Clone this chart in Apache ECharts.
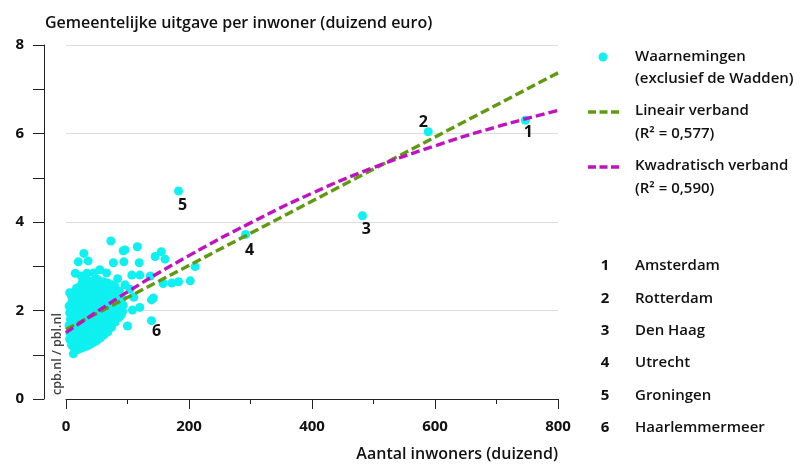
<!DOCTYPE html>
<html>
<head>
<meta charset="utf-8">
<script src="https://cdn.jsdelivr.net/npm/echarts@6/dist/echarts.min.js"></script>
<style>
html, body { margin: 0; padding: 0; background: #fff; }
#chart { width: 803px; height: 466px; }
</style>
</head>
<body>
<div id="chart"></div>
<script>
var FONT = '"Open Sans", "Noto Sans", sans-serif';

// waarnemingen: [inwoners (duizend), uitgave per inwoner (duizend euro)]
var clusterPoints = [
  [6,1.35],[6,1.50],[5,1.66],[7,1.80],[6,1.95],[5,2.10],
  [9,1.22],[10,1.36],[9,1.51],[8,1.64],[10,1.78],[9,1.93],[9,2.06],[10,2.20],[9,2.32],
  [12,1.02],[13,1.16],[12,1.30],[13,1.44],[12,1.58],[13,1.72],[12,1.86],[13,2.00],[12,2.15],[13,2.28],[12,2.40],
  [16,1.12],[17,1.26],[16,1.40],[15,1.55],[17,1.68],[16,1.82],[16,1.96],[17,2.10],[16,2.24],[15,2.38],[17,2.50],
  [20,1.12],[21,1.26],[20,1.40],[21,1.54],[20,1.68],[19,1.83],[21,1.96],[20,2.10],[21,2.24],[20,2.38],[20,2.52],
  [25,1.15],[24,1.29],[26,1.43],[25,1.57],[24,1.71],[26,1.85],[25,1.99],[24,2.13],[26,2.27],[25,2.41],[24,2.55],[26,2.62],
  [30,1.18],[31,1.32],[29,1.46],[30,1.60],[31,1.74],[30,1.88],[29,2.02],[31,2.16],[30,2.30],[29,2.44],[31,2.58],[30,2.65],
  [35,1.20],[36,1.34],[34,1.48],[35,1.62],[36,1.76],[35,1.90],[34,2.04],[36,2.18],[35,2.32],[34,2.46],[36,2.60],[35,2.68],
  [40,1.24],[41,1.38],[39,1.52],[40,1.66],[41,1.80],[40,1.94],[39,2.08],[41,2.22],[40,2.36],[39,2.50],[41,2.64],
  [45,1.28],[46,1.42],[44,1.56],[45,1.70],[46,1.84],[45,1.98],[44,2.12],[46,2.26],[45,2.40],[44,2.54],[46,2.68],
  [50,1.32],[51,1.46],[49,1.60],[50,1.74],[51,1.88],[50,2.02],[49,2.16],[51,2.30],[50,2.44],[49,2.58],[51,2.70],
  [56,1.38],[57,1.52],[55,1.66],[56,1.80],[57,1.94],[56,2.08],[55,2.22],[57,2.36],[56,2.50],[55,2.64],
  [62,1.45],[63,1.59],[61,1.73],[62,1.87],[63,2.01],[62,2.15],[61,2.29],[63,2.43],[62,2.57],[61,2.65],
  [68,1.52],[69,1.66],[67,1.80],[68,1.94],[69,2.08],[68,2.22],[67,2.36],[69,2.50],[68,2.62],
  [74,1.62],[75,1.76],[73,1.90],[74,2.02],[75,2.16],[74,2.30],[73,2.44],[75,2.58],
  [80,1.74],[81,1.88],[79,2.02],[80,2.16],[81,2.30],[80,2.44],[79,2.56],
  [86,1.84],[87,2.00],[85,2.14],[86,2.30],[87,2.44],
  [92,1.98],[93,2.12],[91,2.28]
];
var outlierPoints = [
  [73,3.57],[29,3.29],[20,3.10],[36,3.12],[93,3.35],[77,3.08],[94,3.10],[15,2.84],
  [34,2.84],[66,2.85],[96,3.37],[116,3.44],[119,3.08],[145,3.22],[155,3.33],[161,3.16],
  [107,2.80],[120,2.80],[137,2.78],[210,2.99],[158,2.61],[172,2.62],[183,2.65],[202,2.67],
  [96,2.58],[142,2.28],[139,2.24],[120,2.07],[108,2.01],[100,1.65],[90,1.90],[45,2.85],
  [55,2.92],[25,2.78],[84,2.72],[104,2.48],[110,2.30],[6,2.40]
];

// genummerde gemeenten
var cityNumbers = ['1', '2', '3', '4', '5', '6'];
var cityNames = ['Amsterdam', 'Rotterdam', 'Den Haag', 'Utrecht', 'Groningen', 'Haarlemmermeer'];
var cityPoints = [[747,6.30],[589,6.04],[482,4.14],[292,3.72],[183,4.70],[139,1.77]];

var linearFit = [[0,1.57],[800,7.37]];
var quadraticFit = [[0,1.50],[100,2.42],[200,3.24],[300,3.98],[400,4.65],[500,5.23],[600,5.72],[700,6.15],[800,6.52]];

var xTicks = [0, 200, 400, 600, 800];
var yTicks = [0, 2, 4, 6, 8];

var CYAN = '#0ff0f0', GREEN = '#5f9a10', MAGENTA = '#c012c0', INK = '#111';

var chart = echarts.init(document.getElementById('chart'), null, { renderer: 'canvas' });

// labels bij de genummerde punten
var labelOffsets = [[3,12],[-5,-9],[4,14],[4,16],[4,14],[5,11]];
var cityData = cityPoints.map(function (p, i) {
  return {
    value: p,
    label: {
      show: true, position: 'inside', offset: labelOffsets[i],
      formatter: cityNumbers[i], color: INK, fontSize: 16, fontWeight: 700, fontFamily: FONT
    }
  };
});

// legenda en lijst met gemeenten als graphic
var graphics = [];
function txt(x, y, s, opts) {
  var o = { type: 'text', x: x, y: y, style: { text: s, fill: INK, font: '600 15px ' + FONT, verticalAlign: 'middle', align: 'left' } };
  if (opts) for (var k in opts) o.style[k] = opts[k];
  graphics.push(o);
}
graphics.push({ type: 'circle', shape: { cx: 603, cy: 57, r: 4.5 }, style: { fill: CYAN } });
graphics.push({ type: 'line', shape: { x1: 588, y1: 112, x2: 619, y2: 112 }, style: { stroke: GREEN, lineWidth: 3.4, lineDash: [8, 3.5] } });
graphics.push({ type: 'line', shape: { x1: 588, y1: 167, x2: 619, y2: 167 }, style: { stroke: MAGENTA, lineWidth: 3.4, lineDash: [8, 3.5] } });
txt(635, 57, 'Waarnemingen');
txt(635, 79, '(exclusief de Wadden)');
txt(635, 111, 'Lineair verband');
txt(635, 134, '(R² = 0,577)');
txt(635, 166, 'Kwadratisch verband');
txt(635, 189, '(R² = 0,590)');
cityNames.forEach(function (n, i) {
  var y = 266 + i * 32.4;
  txt(605, y, cityNumbers[i], { align: 'center', font: '700 15px ' + FONT });
  txt(635, y, n);
});
txt(558, 454, 'Aantal inwoners (duizend)', { align: 'right', font: '600 16px ' + FONT });
graphics.push({
  type: 'text', x: 57, y: 354, rotation: Math.PI / 2,
  style: { text: 'cpb.nl / pbl.nl', fill: '#444', font: '600 12.5px ' + FONT, align: 'center', verticalAlign: 'middle' }
});

var option = {
  animation: false,
  title: {
    text: 'Gemeentelijke uitgave per inwoner (duizend euro)',
    left: 40, top: 10,
    textStyle: { color: INK, fontSize: 16, fontWeight: 600, fontFamily: FONT }
  },
  grid: { left: 66, right: 245, top: 45, bottom: 67 },
  xAxis: {
    type: 'value', min: xTicks[0], max: xTicks[xTicks.length - 1], interval: xTicks[1] - xTicks[0],
    axisLine: { show: true, onZero: false, lineStyle: { color: '#222', width: 1 } },
    axisTick: { show: true, length: 10, lineStyle: { color: '#222' } },
    minorTick: { show: true, splitNumber: 2, length: 5, lineStyle: { color: '#222' } },
    axisLabel: { margin: 20, color: INK, fontSize: 15, fontWeight: 700, fontFamily: FONT },
    splitLine: { show: false }
  },
  yAxis: {
    type: 'value', min: yTicks[0], max: yTicks[yTicks.length - 1], interval: yTicks[1] - yTicks[0],
    offset: 22,
    axisLine: { show: true, onZero: false, lineStyle: { color: '#222', width: 1 } },
    axisTick: { show: true, length: 11, lineStyle: { color: '#222' } },
    minorTick: { show: true, splitNumber: 2, length: 11, lineStyle: { color: '#222' } },
    axisLabel: { margin: 20, color: INK, fontSize: 15, fontWeight: 700, fontFamily: FONT },
    splitLine: { show: true, lineStyle: { color: '#dcdcdc', width: 1 } }
  },
  series: [
    { name: 'Waarnemingen', type: 'scatter', symbolSize: 9, data: clusterPoints.concat(outlierPoints),
      itemStyle: { color: CYAN, opacity: 1 }, z: 2 },
    { name: 'Gemeenten', type: 'scatter', symbolSize: 9, data: cityData,
      itemStyle: { color: CYAN, opacity: 1 }, z: 2 },
    { name: 'Lineair verband', type: 'line', data: linearFit, showSymbol: false,
      lineStyle: { color: GREEN, width: 3.4, type: [9, 4] }, z: 3 },
    { name: 'Kwadratisch verband', type: 'line', data: quadraticFit, showSymbol: false, smooth: true,
      lineStyle: { color: MAGENTA, width: 3.4, type: [9, 4] }, z: 4 }
  ],
  graphic: graphics
};
chart.setOption(option);
</script>
</body>
</html>
